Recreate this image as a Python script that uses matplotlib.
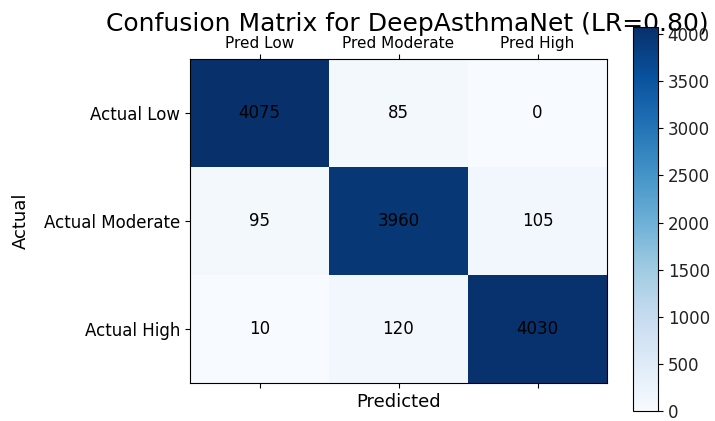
import matplotlib as mpl
mpl.use("Agg")
import matplotlib.pyplot as plt
import numpy as np

classes = ["Low", "Moderate", "High"]
cm = np.array([[4075, 85, 0],
               [95, 3960, 105],
               [10, 120, 4030]])
cbar_ticks = [0, 500, 1000, 1500, 2000, 2500, 3000, 3500, 4000]

fig = plt.figure(figsize=(7.15, 4.21), dpi=100)
ax = fig.add_axes([190/715, 38/421, 417/715, 324/421])
cax = fig.add_axes([633/715, 10/421, 25/715, 384/421])

im = ax.imshow(cm, cmap="Blues", vmin=0, vmax=cm.max(), aspect="auto")
cb = fig.colorbar(im, cax=cax, ticks=cbar_ticks)
cb.ax.tick_params(labelsize=12, labelcolor="#222222")

ax.set_xticks(range(len(classes)))
ax.set_xticklabels(["Pred " + c for c in classes], fontsize=11)
ax.set_yticks(range(len(classes)))
ax.set_yticklabels(["Actual " + c for c in classes], fontsize=12)
ax.xaxis.set_ticks_position("both")
ax.tick_params(axis="x", labeltop=True, labelbottom=False, pad=2)

ax.set_xlabel("Predicted", fontsize=13)
ax.set_ylabel("Actual", fontsize=13, labelpad=10)
ax.set_title("Confusion Matrix for DeepAsthmaNet (LR=0.80)", fontsize=18,
             pad=20, x=0.52)

for i in range(cm.shape[0]):
    for j in range(cm.shape[1]):
        ax.text(j, i, str(cm[i, j]), ha="center", va="center", fontsize=12, color="black")

fig.savefig("out.png", dpi=100)
